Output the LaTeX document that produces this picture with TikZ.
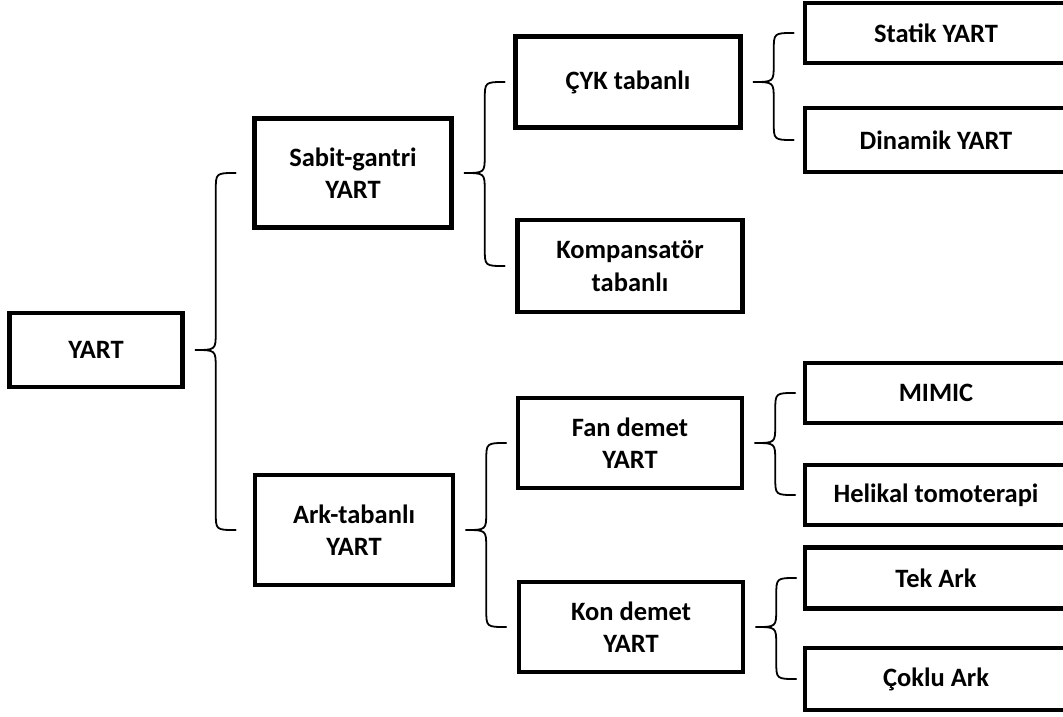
\documentclass[tikz,border=0pt]{standalone}
\usepackage{fontspec}
\setmainfont{Carlito}
\usepackage{tikz}
\usetikzlibrary{calc, positioning}

% brace from a parent box to its two children
\newcommand{\brc}[3]{%
  \draw[brace] let \p1=($(#1.east)+(10,0)$), \p2=(#2.west), \p3=(#3.west) in
    (\x1+41pt,\y2) .. controls (\x1+21pt,\y2) .. (\x1+21pt,\y2-18pt)
    -- (\x1+21pt,\y1+18pt) .. controls (\x1+21pt,\y1) .. (\x1,\y1)
    .. controls (\x1+21pt,\y1) .. (\x1+21pt,\y1-18pt)
    -- (\x1+21pt,\y3+18pt) .. controls (\x1+21pt,\y3) .. (\x1+41pt,\y3);}

\tikzset{
  box/.style={draw, line width=4.5pt, align=center, inner sep=0pt,
    font=\fontsize{26.5}{32.5}\selectfont\bfseries},
  brace/.style={line width=1.8pt, line cap=round}
}

\begin{document}
\begin{tikzpicture}[x=1pt, y=-1pt]
  \useasboundingbox (0,0) rectangle (1063,717);
  \node[box, minimum width=173, minimum height=74] (yart) at (96,350) {YART};
  \node[box, minimum width=197, minimum height=109] (sabit) at (353,173) {Sabit-gantri\\YART};
  \node[box, minimum width=198, minimum height=110] (ark) at (354,530) {Ark-tabanl\i\\YART};
  \node[box, minimum width=225, minimum height=91] (cyk) at (628,82) {ÇYK tabanl\i};
  \node[box, minimum width=225, minimum height=92] (komp) at (630,266) {Kompansatör\\tabanl\i};
  \node[box, minimum width=224, minimum height=90] (fan) at (630,443) {Fan demet\\YART};
  \node[box, minimum width=224, minimum height=90] (kon) at (631,627) {Kon demet\\YART};
  \node[box, minimum width=262, minimum height=60] (statik) at (936,33) {Statik YART};
  \node[box, minimum width=262, minimum height=64] (dinamik) at (936,140) {Dinamik YART};
  \node[box, minimum width=262, minimum height=60] (mimic) at (936,393) {MIMIC};
  \node[box, minimum width=262, minimum height=60] (helikal) at (936,495) {Helikal tomoterapi};
  \node[box, minimum width=262, minimum height=61] (tek) at (936,578) {Tek Ark};
  \node[box, minimum width=262, minimum height=62] (coklu) at (936,679) {Çoklu Ark};
  \brc{yart}{sabit}{ark}
  \brc{sabit}{cyk}{komp}
  \brc{cyk}{statik}{dinamik}
  \brc{ark}{fan}{kon}
  \brc{fan}{mimic}{helikal}
  \brc{kon}{tek}{coklu}
\end{tikzpicture}
\end{document}
